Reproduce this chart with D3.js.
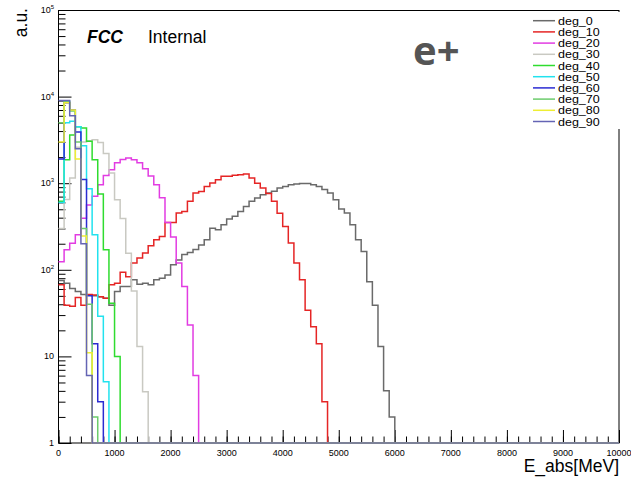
<!DOCTYPE html>
<html lang="en">
<head>
<meta charset="UTF-8">
<title>E_abs</title>
<script src="https://cdn.jsdelivr.net/npm/d3@7"></script>
<style>
  body { margin: 0; background: #fff; }
  text { font-family: "Liberation Sans", Arial, sans-serif; }
</style>
</head>
<body>
<svg id="chart" width="631" height="482"></svg>
<script>
// bin width is 100 MeV, bins start at 0
var binWidth = 100;
var names = ['deg_0', 'deg_10', 'deg_20', 'deg_30', 'deg_40', 'deg_50', 'deg_60', 'deg_70', 'deg_80', 'deg_90'];
var colors = ['#6a6a6a', '#e52525', '#e23ce2', '#c9c9c2', '#2fdc2f', '#22e2ee', '#2b2bd2', '#6ccc6c', '#eeee33', '#6464b4'];

var deg0 = [75, 70, 61, 56, 52, 51, 50, 49, 47, 39, 56, 64, 64, 77, 68, 70, 67, 77, 80,
  87, 114, 130, 150, 158, 172, 194, 222, 302, 290, 331, 385, 414, 472, 540, 617, 675, 735, 770, 805, 880, 918, 960, 980, 990, 990,
  960, 918, 845, 770, 645, 505, 452, 331, 222, 163, 73, 39, 13, 4, 2];
var deg10 = [67, 39, 38, 48, 39, 52, 51, 49, 47, 67, 70, 94, 83, 120, 137, 156, 189, 222, 243, 352, 352, 452, 472, 617, 771, 804,
  918, 1005, 1097, 1199, 1199, 1233, 1250, 1280, 1150, 1000, 880, 760, 620, 450, 317, 204, 120, 77, 34, 22, 14, 3];
var deg20 = [124, 170, 203, 254, 395, 560, 705, 960, 1230, 1430, 1720, 1880, 1960, 1870, 1720, 1470, 1210, 960, 680, 352, 239, 120, 64, 23, 6];
var deg30 = [300, 650, 1150, 2600, 3000, 3100, 3180, 2950, 2200, 1310, 645, 390, 155, 57, 13, 3.9];
var deg40 = [620, 1870, 3600, 4500, 4350, 3050, 1870, 750, 170, 41, 10];
var deg50 = [600, 5000, 5200, 4500, 2700, 860, 254, 29, 5.1];
var deg60 = [1900, 8500, 7000, 3900, 1100, 50, 14, 3];
var deg70 = [5000, 8800, 6800, 3000, 300, 40, 2];
var deg80 = [3000, 8500, 7000, 1900, 245, 11];
var deg90 = [9000, 9000, 6000, 2500, 200, 6];
var hists = [deg0, deg10, deg20, deg30, deg40, deg50, deg60, deg70, deg80, deg90];

var xTicks = d3.range(0, 10001, 1000);
var xMinor = d3.range(0, 10001, 200);
var yExp = [0, 1, 2, 3, 4, 5];

var svg = d3.select('#chart');
var x = d3.scaleLinear().domain([0, 10000]).range([58.5, 619]);
var y = d3.scaleLog().domain([1, 1e5]).range([443, 10]);
var yc = function(v) { return y(Math.max(v, 1)); };

// frame
svg.append('rect')
  .attr('x', 58.5).attr('y', 10.5)
  .attr('width', 619 - 58.5).attr('height', 443 - 10.5)
  .attr('fill', 'none').attr('stroke', '#000').attr('stroke-width', 1);

// x axis ticks (inward)
var xa = svg.append('g').attr('transform', 'translate(0,443)');
xa.call(d3.axisBottom(x).tickValues(xMinor).tickSize(-6.5).tickFormat(''));
xa.append('g').call(d3.axisBottom(x).tickValues(xTicks).tickSize(-13).tickFormat(''));
xa.selectAll('.domain').remove();
xa.selectAll('line').attr('stroke', '#000').attr('stroke-width', 1);

svg.selectAll('.xl').data(xTicks).enter().append('text')
  .attr('x', function(d) { return x(d); })
  .attr('y', 455.5)
  .attr('text-anchor', 'middle')
  .attr('font-size', 9)
  .attr('fill', '#000')
  .text(function(d) { return d; });

// y axis ticks (inward)
var yMinor = [];
for (var e = 0; e < 5; e++) for (var m = 2; m <= 9; m++) yMinor.push(m * Math.pow(10, e));
var ya = svg.append('g').attr('transform', 'translate(58.5,0)');
ya.call(d3.axisLeft(y).tickValues(yMinor).tickSize(-7).tickFormat(''));
ya.append('g').call(d3.axisLeft(y).tickValues(yExp.map(function(p) { return Math.pow(10, p); })).tickSize(-13).tickFormat(''));
ya.selectAll('.domain').remove();
ya.selectAll('line').attr('stroke', '#000').attr('stroke-width', 1);

var yl = svg.selectAll('.yl').data(yExp).enter().append('text')
  .attr('x', 54)
  .attr('y', function(p) { return y(Math.pow(10, p)) + 3; })
  .attr('text-anchor', 'end')
  .attr('font-size', 9);
yl.each(function(p) {
  var t = d3.select(this);
  if (p == 0) t.text('1');
  else if (p == 1) t.text('10');
  else {
    t.append('tspan').text('10');
    t.append('tspan').attr('font-size', 6).attr('dy', -4).text(p);
  }
});

// histograms
var line = d3.line()
  .x(function(d) { return x(d[0]); })
  .y(function(d) { return yc(d[1]); })
  .curve(d3.curveStepAfter);

hists.forEach(function(vals, k) {
  var pts = vals.map(function(v, i) { return [i * binWidth, v]; });
  pts.push([vals.length * binWidth, 0]);
  pts.push([10000, 0]);
  svg.append('path')
    .attr('d', line(pts))
    .attr('fill', 'none')
    .attr('stroke', colors[k])
    .attr('stroke-width', 1.5);
});

// legend (rows are tight, so glyphs are stretched sideways instead of a bigger font)
svg.append('rect').attr('x', 527).attr('y', 12).attr('width', 104).attr('height', 117).attr('fill', '#fff');
var lg = svg.selectAll('.lg').data(names).enter().append('g')
  .attr('transform', function(d, i) { return 'translate(0,' + (20.7 + i * 11.2) + ')'; });
lg.append('line').attr('x1', 533).attr('x2', 555).attr('y1', 0).attr('y2', 0)
  .attr('stroke', function(d, i) { return colors[i]; }).attr('stroke-width', 1.5);
lg.append('text').attr('x', 558).attr('y', 4).attr('font-size', 10)
  .attr('textLength', function(d) { return d.length * 6.95; })
  .attr('lengthAdjust', 'spacingAndGlyphs')
  .text(function(d) { return d; });

// labels
svg.append('text').attr('x', 87).attr('y', 43).attr('font-size', 17.5)
  .attr('font-weight', 'bold').attr('font-style', 'italic').text('FCC');
svg.append('text').attr('x', 148).attr('y', 43).attr('font-size', 17.5).text('Internal');
svg.append('text').attr('x', 413).attr('y', 65).attr('font-size', 40)
  .attr('font-weight', 'bold').attr('fill', '#555')
  .style('font-family', '"Open Sans", sans-serif').text('e+');
svg.append('text').attr('transform', 'translate(27,8) rotate(-90)')
  .attr('text-anchor', 'end').attr('font-size', 17.5).text('a.u.');
svg.append('text').attr('x', 619).attr('y', 472).attr('text-anchor', 'end')
  .attr('font-size', 17.5).text('E_abs[MeV]');
</script>
</body>
</html>
